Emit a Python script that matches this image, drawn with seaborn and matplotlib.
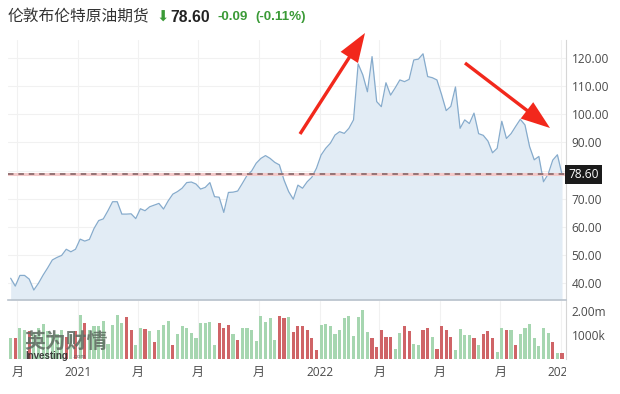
import numpy as np
import pandas as pd
import matplotlib
matplotlib.use("Agg")
import matplotlib.pyplot as plt
import matplotlib.dates as mdates
from matplotlib.transforms import Bbox, TransformedBbox, blended_transform_factory
import seaborn as sns

# ---------------- data ----------------
start_date = "2020-09-21"
price = [41.7, 38.9, 42.7, 42.7, 41.4, 37.5, 39.9, 42.8, 45.4, 48.2,
         49.1, 49.8, 52.0, 51.1, 52.0, 55.6, 54.9, 55.5, 59.4, 62.2,
         62.8, 65.7, 68.9, 68.9, 64.5, 64.5, 64.6, 62.9, 66.4, 65.7,
         67.1, 67.7, 68.3, 66.3, 69.2, 71.6, 72.5, 73.7, 75.7, 75.9,
         75.2, 73.4, 74.0, 75.7, 70.7, 70.5, 65.1, 72.2, 72.3, 72.7,
         75.4, 78.2, 79.8, 82.6, 84.3, 85.3, 84.3, 82.9, 82.0, 76.6,
         72.5, 69.8, 74.8, 73.7, 76.0, 77.6, 80.8, 85.5, 87.9, 89.7,
         92.6, 93.8, 93.2, 95.0, 98.0, 117.9, 114.0, 108.0, 120.5, 104.5,
         102.7, 111.2, 106.8, 109.4, 112.2, 111.6, 112.4, 119.3, 119.6, 121.5,
         113.4, 113.0, 112.2, 107.0, 101.3, 102.8, 109.7, 95.0, 98.0, 96.7,
         100.4, 93.1, 92.5, 90.5, 86.3, 87.9, 97.5, 91.4, 93.1, 95.7,
         98.2, 96.2, 88.5, 83.8, 85.0, 76.0, 78.7, 83.7, 85.6, 78.6]
volume_m = [0.86, 0.86, 1.29, 1.21, 1.17, 1.07, 1.29, 1.46, 1.17, 1.00,
            1.03, 1.21, 0.93, 1.03, 1.17, 1.83, 1.50, 1.21, 1.36, 1.36,
            1.60, 0.64, 1.40, 1.83, 1.50, 1.74, 1.21, 0.60, 1.29, 1.26,
            1.17, 0.69, 1.21, 1.43, 1.60, 0.60, 1.03, 1.36, 1.29, 1.07,
            0.86, 1.50, 1.50, 1.54, 0.57, 1.50, 1.31, 1.43, 1.03, 0.79,
            1.29, 1.29, 1.21, 0.74, 1.79, 1.54, 1.71, 0.79, 1.79, 1.69,
            1.74, 1.14, 1.36, 1.36, 1.21, 0.86, 0.36, 1.43, 1.46, 1.36,
            1.03, 1.21, 1.71, 1.79, 0.97, 1.74, 2.03, 1.14, 0.89, 0.50,
            1.21, 0.93, 0.93, 0.40, 1.07, 1.36, 1.17, 0.64, 0.60, 1.21,
            1.31, 0.93, 0.43, 1.36, 1.21, 0.93, 0.36, 1.26, 1.00, 1.00,
            0.86, 0.60, 1.03, 1.17, 0.86, 0.29, 1.29, 1.21, 1.21, 0.60,
            1.03, 1.29, 1.46, 0.86, 0.54, 1.29, 1.07, 0.71, 0.26, 0.26]
bar_dir = list("grggrggggg" "ggrgrgrggg" "gggggrrggr"
               "grgggrgggg" "gggggrrrgr" "ggggggggrr"
               "grrrrrrggg" "ggggggggrr" "rrrggrrggr"
               "rgrrrrgggg" "rgrrrggrgr" "gggggggrgr")
tick_dates = ["2020-10-01", "2021-01-01", "2021-04-01", "2021-07-01", "2021-10-01",
              "2022-01-01", "2022-04-01", "2022-07-01", "2022-10-01", "2023-01-01"]
tick_labels = ["月", "2021", "月", "月", "月", "2022", "月", "月", "月", "2023"]
price_ticks = [40, 50, 60, 70, 80, 90, 100, 110, 120]
price_tick_labels = ["40.00", "50.00", "60.00", "70.00", "", "90.00", "100.00", "110.00", "120.00"]
vol_ticks = [1.0, 2.0]
vol_tick_labels = ["1000k", "2.00m"]
last_price = 78.60
title = "伦敦布伦特原油期货"
last_text = "78.60"
change_text = "-0.09"
pct_text = "(-0.11%)"

bar_dir = (bar_dir + ["g"] * len(volume_m))[:len(volume_m)]

dates = pd.date_range(start_date, periods=len(price), freq="7D")
df = pd.DataFrame({"date": mdates.date2num(dates), "price": price,
                   "vol": volume_m, "dir": bar_dir})

# ---------------- style ----------------
sns.set_theme(style="white")
plt.rcParams["font.family"] = ["Open Sans", "Noto Sans CJK SC", "DejaVu Sans"]

W, H = 620, 394
fig = plt.figure(figsize=(W / 100, H / 100), dpi=100)
fig.patch.set_facecolor("white")


def px(x0, y0, x1, y1):
    return [x0 / W, 1 - y1 / H, (x1 - x0) / W, (y1 - y0) / H]


ax = fig.add_axes(px(8, 40, 566, 300))
axv = fig.add_axes(px(8, 301, 566, 359))

line_c = "#86abcc"
fill_c = "#e2ecf5"
green_bar = "#a6d6b0"
red_bar = "#cf6467"
grid_c = "#f1f1f1"
tick_c = "#4a4a4a"

xl = mdates.date2num(pd.to_datetime(["2020-09-17", "2023-01-08"]))
ylo, yhi = 33.96, 126.4
tick_nums = mdates.date2num(pd.to_datetime(tick_dates))

# ---------------- price panel ----------------
for t in price_ticks:
    ax.axhline(t, color=grid_c, lw=0.8, zorder=0)
for t in tick_nums:
    ax.axvline(t, color=grid_c, lw=0.8, zorder=0)
ax.fill_between(df["date"], df["price"], ylo, color=fill_c, lw=0, zorder=1)
sns.lineplot(data=df, x="date", y="price", color=line_c, lw=0.9, ax=ax, zorder=2)
ax.axhline(last_price, color="#f3c9c9", lw=2.2, zorder=3)
ax.axhline(last_price, color="#7b5c5e", lw=1.1, dashes=(3.6, 3.2), zorder=4)

ax.set_xlim(*xl)
ax.set_ylim(ylo, yhi)
ax.set_xticks([])
ax.set_yticks(price_ticks)
ax.set_yticklabels(price_tick_labels)
ax.yaxis.tick_right()
ax.tick_params(axis="y", length=0, pad=4, labelsize=8.6, labelcolor=tick_c)
ax.set_xlabel("")
ax.set_ylabel("")
for s in ["left", "top"]:
    ax.spines[s].set_visible(False)
ax.spines["right"].set_color("#d6d6d6")
ax.spines["right"].set_linewidth(0.8)
ax.spines["bottom"].set_color("#b9c2cc")
ax.spines["bottom"].set_linewidth(1.2)

trans = blended_transform_factory(ax.transAxes, ax.transData)
ax.text(1.004, last_price, last_text, transform=trans, ha="left", va="center",
        fontsize=8.6, color="white", zorder=6,
        bbox=dict(boxstyle="square,pad=0.25", fc="#1b1b1b", ec="none"))

# ---------------- volume panel ----------------
for t in tick_nums:
    axv.axvline(t, color=grid_c, lw=0.8, zorder=0)
sns.barplot(data=df, x="date", y="vol", hue="dir",
            palette={"g": green_bar, "r": red_bar}, native_scale=True,
            dodge=False, width=0.68, errorbar=None, legend=False,
            saturation=1, linewidth=0, ax=axv, zorder=2)
axv.set_xlim(*xl)
axv.set_ylim(0, 2.42)
axv.set_yticks(vol_ticks)
axv.set_yticklabels(vol_tick_labels)
axv.yaxis.tick_right()
axv.tick_params(axis="y", length=0, pad=4, labelsize=8.6, labelcolor=tick_c)
axv.set_xticks(tick_nums)
axv.set_xticklabels(tick_labels)
axv.tick_params(axis="x", length=0, pad=5, labelsize=8.6, labelcolor=tick_c)
axv.set_xlabel("")
axv.set_ylabel("")
for s in ["left", "top", "bottom"]:
    axv.spines[s].set_visible(False)
axv.spines["right"].set_color("#d6d6d6")
axv.spines["right"].set_linewidth(0.8)

clip = TransformedBbox(Bbox([[0, 0], [566 / W, 1]]), fig.transFigure)
for lbl in axv.get_xticklabels():
    lbl.set_clip_box(clip)
    lbl.set_clip_on(True)

# watermark
fig.text(24 / W, 1 - 341 / H, "英为财情", fontsize=15, fontweight="bold",
         color="#5d6b61", alpha=0.85, va="center", ha="left",
         family=["Noto Sans CJK SC", "DejaVu Sans"])
fig.text(25 / W, 1 - 356 / H, "Investing", fontsize=7, fontweight="bold",
         color="#2e2e2e", alpha=0.9, va="center", ha="left",
         family=["Liberation Sans", "DejaVu Sans"])
fig.text(72 / W, 1 - 357 / H, ".com", fontsize=4.5, color="#555555",
         alpha=0.8, va="center", ha="left", family=["Liberation Sans"])

# ---------------- title row ----------------
fig.text(8 / W, 1 - 17 / H, title, fontsize=11.3, color="#333333",
         va="center", ha="left", family=["Noto Sans CJK SC", "DejaVu Sans"])
fig.text(156 / W, 1 - 17 / H, "⬇", fontsize=10.5, color="#3a9a36",
         va="center", ha="left", family=["DejaVu Sans"])
fig.text(170 / W, 1 - 17 / H, last_text, fontsize=11.3, fontweight="bold",
         color="#222222", va="center", ha="left", family=["Liberation Sans"])
fig.text(217 / W, 1 - 17 / H, change_text, fontsize=9.6, fontweight="bold",
         color="#3a9a36", va="center", ha="left", family=["Liberation Sans"])
fig.text(255 / W, 1 - 17 / H, pct_text, fontsize=9.6, fontweight="bold",
         color="#3a9a36", va="center", ha="left", family=["Liberation Sans"])

# ---------------- red arrows ----------------
arrow_style = dict(arrowstyle="simple,head_length=1.9,head_width=1.35,tail_width=0.22",
                   color="#f2281c", lw=0, shrinkA=0, shrinkB=0, mutation_scale=11)
ax.annotate("", xy=(365 / W, 1 - 33 / H), xytext=(300 / W, 1 - 134 / H),
            xycoords="figure fraction", textcoords="figure fraction",
            arrowprops=arrow_style, annotation_clip=False)
ax.annotate("", xy=(550 / W, 1 - 128 / H), xytext=(465 / W, 1 - 63 / H),
            xycoords="figure fraction", textcoords="figure fraction",
            arrowprops=arrow_style, annotation_clip=False)

fig.savefig("out.png", dpi=100, facecolor="white")
